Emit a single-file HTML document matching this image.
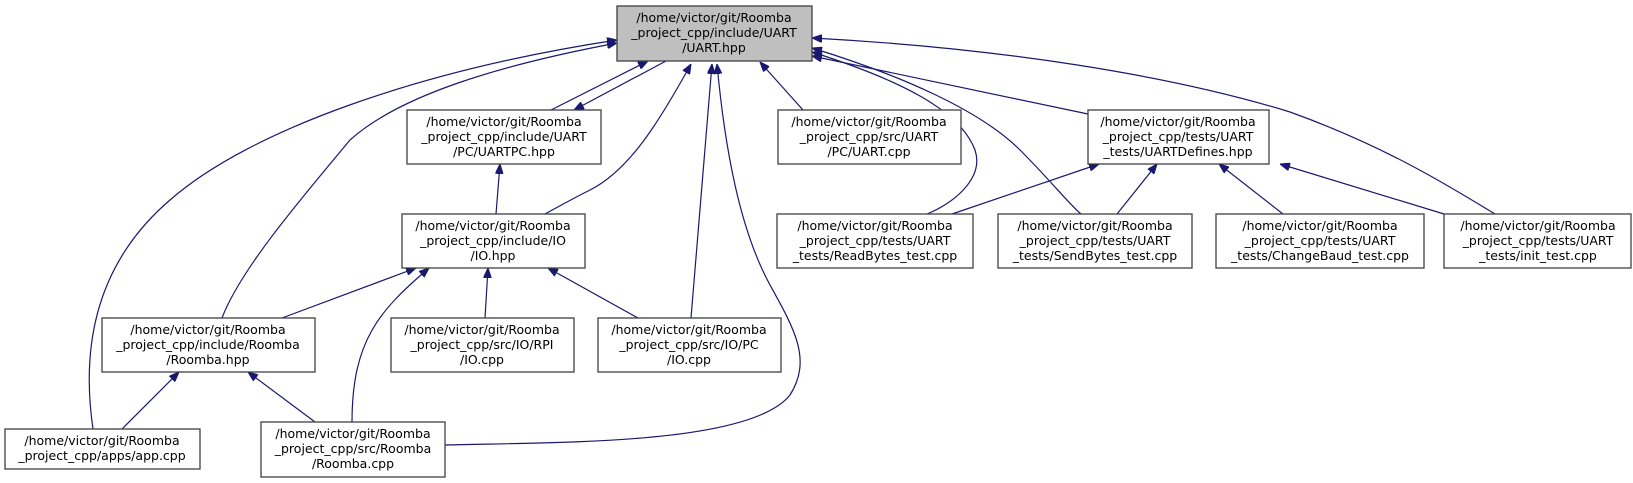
<!DOCTYPE html>
<html><head><meta charset="utf-8"><style>
html,body{margin:0;padding:0;background:#fff;}
svg{display:block;}
text{font-family:"DejaVu Sans","Liberation Sans",sans-serif;font-size:12.5px;fill:#000;}
.b{fill:#fff;stroke:#404040;stroke-width:1.3;}
.e{fill:none;stroke:#191970;stroke-width:1.2;}
</style></head><body>
<svg width="1633" height="483" viewBox="0 0 1633 483" xmlns="http://www.w3.org/2000/svg">
<defs>
<marker id="a" viewBox="0 0 10 8" refX="0" refY="4" markerWidth="10" markerHeight="8" markerUnits="userSpaceOnUse" orient="auto">
<path d="M10,0 L0,4 L10,8 z" fill="#191970" stroke="#191970"/>
</marker>
</defs>

<g class="e">
<path marker-start="url(#a)" d="M617,40 C420,70 250,130 170,200 C100,260 80,340 93,429"/>
<path marker-start="url(#a)" d="M617,43 C500,65 400,95 350,140 C300,200 240,270 222,318"/>
<path marker-start="url(#a)" d="M648,61 L551,110"/>
<path marker-start="url(#a)" d="M574,110 L666,61"/>
<path marker-start="url(#a)" d="M691,64 C660,120 630,170 590,190 C570,200 558,207 545,214"/>
<path marker-start="url(#a)" d="M712,64 L691,318"/>
<path marker-start="url(#a)" d="M717,64 C725,150 740,230 770,285 C795,330 812,360 790,395 C750,445 560,442 445,445"/>
<path marker-start="url(#a)" d="M760,62 L803,110"/>
<path marker-start="url(#a)" d="M812,52 C900,80 960,110 975,150 C985,180 950,205 927,214"/>
<path marker-start="url(#a)" d="M812,48 C900,75 980,110 1020,150 C1050,180 1070,205 1081,214"/>
<path marker-start="url(#a)" d="M812,56 L1088,114"/>
<path marker-start="url(#a)" d="M812,38 C1000,48 1170,75 1290,112 C1390,148 1455,190 1495,214"/>
<path marker-start="url(#a)" d="M500,164 L496,214"/>
<path marker-start="url(#a)" d="M416,268 L282,318"/>
<path marker-start="url(#a)" d="M429,268 C380,310 352,340 352,422"/>
<path marker-start="url(#a)" d="M488,268 L485,318"/>
<path marker-start="url(#a)" d="M548,268 L638,318"/>
<path marker-start="url(#a)" d="M179,372 L122,429"/>
<path marker-start="url(#a)" d="M248,372 L315,422"/>
<path marker-start="url(#a)" d="M1099,164 L952,214"/>
<path marker-start="url(#a)" d="M1157,164 L1117,214"/>
<path marker-start="url(#a)" d="M1219,164 L1283,214"/>
<path marker-start="url(#a)" d="M1280,164 L1444,214"/>
</g>

<g text-anchor="middle">
<rect x="617" y="6" width="195" height="55" fill="#bfbfbf" stroke="#404040" stroke-width="1.3"/>
<text x="714" y="22">/home/victor/git/Roomba</text><text x="714" y="37">_project_cpp/include/UART</text><text x="714" y="52">/UART.hpp</text>

<rect class="b" x="407" y="110" width="194" height="54"/>
<text x="504" y="126">/home/victor/git/Roomba</text><text x="504" y="141">_project_cpp/include/UART</text><text x="504" y="156">/PC/UARTPC.hpp</text>

<rect class="b" x="778" y="110" width="183" height="54"/>
<text x="869" y="126">/home/victor/git/Roomba</text><text x="869" y="141">_project_cpp/src/UART</text><text x="869" y="156">/PC/UART.cpp</text>

<rect class="b" x="1088" y="110" width="181" height="54"/>
<text x="1178" y="126">/home/victor/git/Roomba</text><text x="1178" y="141">_project_cpp/tests/UART</text><text x="1178" y="156">_tests/UARTDefines.hpp</text>

<rect class="b" x="402" y="214" width="183" height="54"/>
<text x="493" y="230">/home/victor/git/Roomba</text><text x="493" y="245">_project_cpp/include/IO</text><text x="493" y="260">/IO.hpp</text>

<rect class="b" x="777" y="214" width="196" height="54"/>
<text x="875" y="230">/home/victor/git/Roomba</text><text x="875" y="245">_project_cpp/tests/UART</text><text x="875" y="260">_tests/ReadBytes_test.cpp</text>

<rect class="b" x="998" y="214" width="194" height="54"/>
<text x="1095" y="230">/home/victor/git/Roomba</text><text x="1095" y="245">_project_cpp/tests/UART</text><text x="1095" y="260">_tests/SendBytes_test.cpp</text>

<rect class="b" x="1216" y="214" width="208" height="54"/>
<text x="1320" y="230">/home/victor/git/Roomba</text><text x="1320" y="245">_project_cpp/tests/UART</text><text x="1320" y="260">_tests/ChangeBaud_test.cpp</text>

<rect class="b" x="1444" y="214" width="187" height="54"/>
<text x="1538" y="230">/home/victor/git/Roomba</text><text x="1538" y="245">_project_cpp/tests/UART</text><text x="1538" y="260">_tests/init_test.cpp</text>

<rect class="b" x="102" y="318" width="213" height="54"/>
<text x="208" y="334">/home/victor/git/Roomba</text><text x="208" y="349">_project_cpp/include/Roomba</text><text x="208" y="364">/Roomba.hpp</text>

<rect class="b" x="391" y="318" width="183" height="54"/>
<text x="482" y="334">/home/victor/git/Roomba</text><text x="482" y="349">_project_cpp/src/IO/RPI</text><text x="482" y="364">/IO.cpp</text>

<rect class="b" x="598" y="318" width="183" height="54"/>
<text x="689" y="334">/home/victor/git/Roomba</text><text x="689" y="349">_project_cpp/src/IO/PC</text><text x="689" y="364">/IO.cpp</text>

<rect class="b" x="5" y="429" width="195" height="40"/>
<text x="102" y="445">/home/victor/git/Roomba</text><text x="102" y="460">_project_cpp/apps/app.cpp</text>

<rect class="b" x="261" y="422" width="184" height="55"/>
<text x="353" y="438">/home/victor/git/Roomba</text><text x="353" y="453">_project_cpp/src/Roomba</text><text x="353" y="468">/Roomba.cpp</text>
</g>
</svg>
</body></html>
